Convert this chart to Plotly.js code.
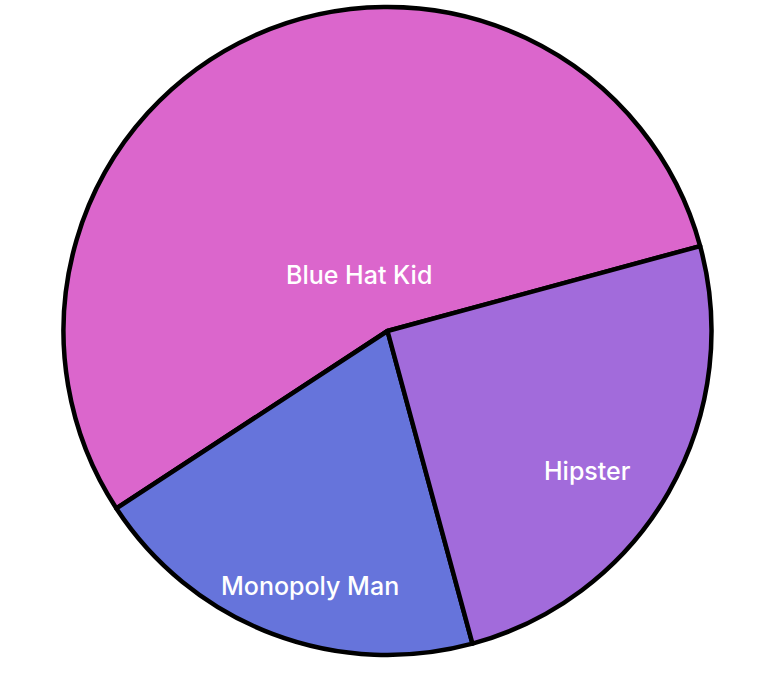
<!DOCTYPE html>
<html>
<head>
<meta charset="utf-8">
<script src="https://cdn.plot.ly/plotly-3.0.1.min.js"></script>
<style>html,body{margin:0;padding:0;background:#fff;}#chart{width:763px;height:674px;}</style>
</head>
<body>
<div id="chart"></div>
<script>
const labels = ["Blue Hat Kid", "Monopoly Man", "Hipster"];
const values = [55, 20, 25];
const colors = ["#DB66CC", "#6674DB", "#A26BDB"];

// label anchor positions (paper fractions), styling only
const labelX = [0.4619, 0.3946, 0.7721];
const labelY = [0.5861, 0.1065, 0.2840];

const trace = {
  type: "pie",
  labels: labels,
  values: values,
  sort: false,
  direction: "counterclockwise",
  rotation: -123.2,
  textinfo: "none",
  marker: {colors: colors, line: {color: "#000000", width: 4.5}},
  hoverinfo: "label+percent"
};

const annotations = labels.map((lab, i) => ({
  text: lab,
  xref: "paper", yref: "paper",
  x: labelX[i], y: labelY[i],
  xanchor: "center", yanchor: "middle",
  showarrow: false,
  font: {color: "#ffffff", size: 25, weight: 500, family: "Inter, Arial, sans-serif"}
}));

const layout = {
  width: 763,
  height: 674,
  showlegend: false,
  margin: {l: 20, r: 8, t: 7, b: 19},
  paper_bgcolor: "#ffffff",
  plot_bgcolor: "#ffffff",
  annotations: annotations
};

Plotly.newPlot("chart", [trace], layout, {displayModeBar: false, staticPlot: true});
</script>
</body>
</html>
